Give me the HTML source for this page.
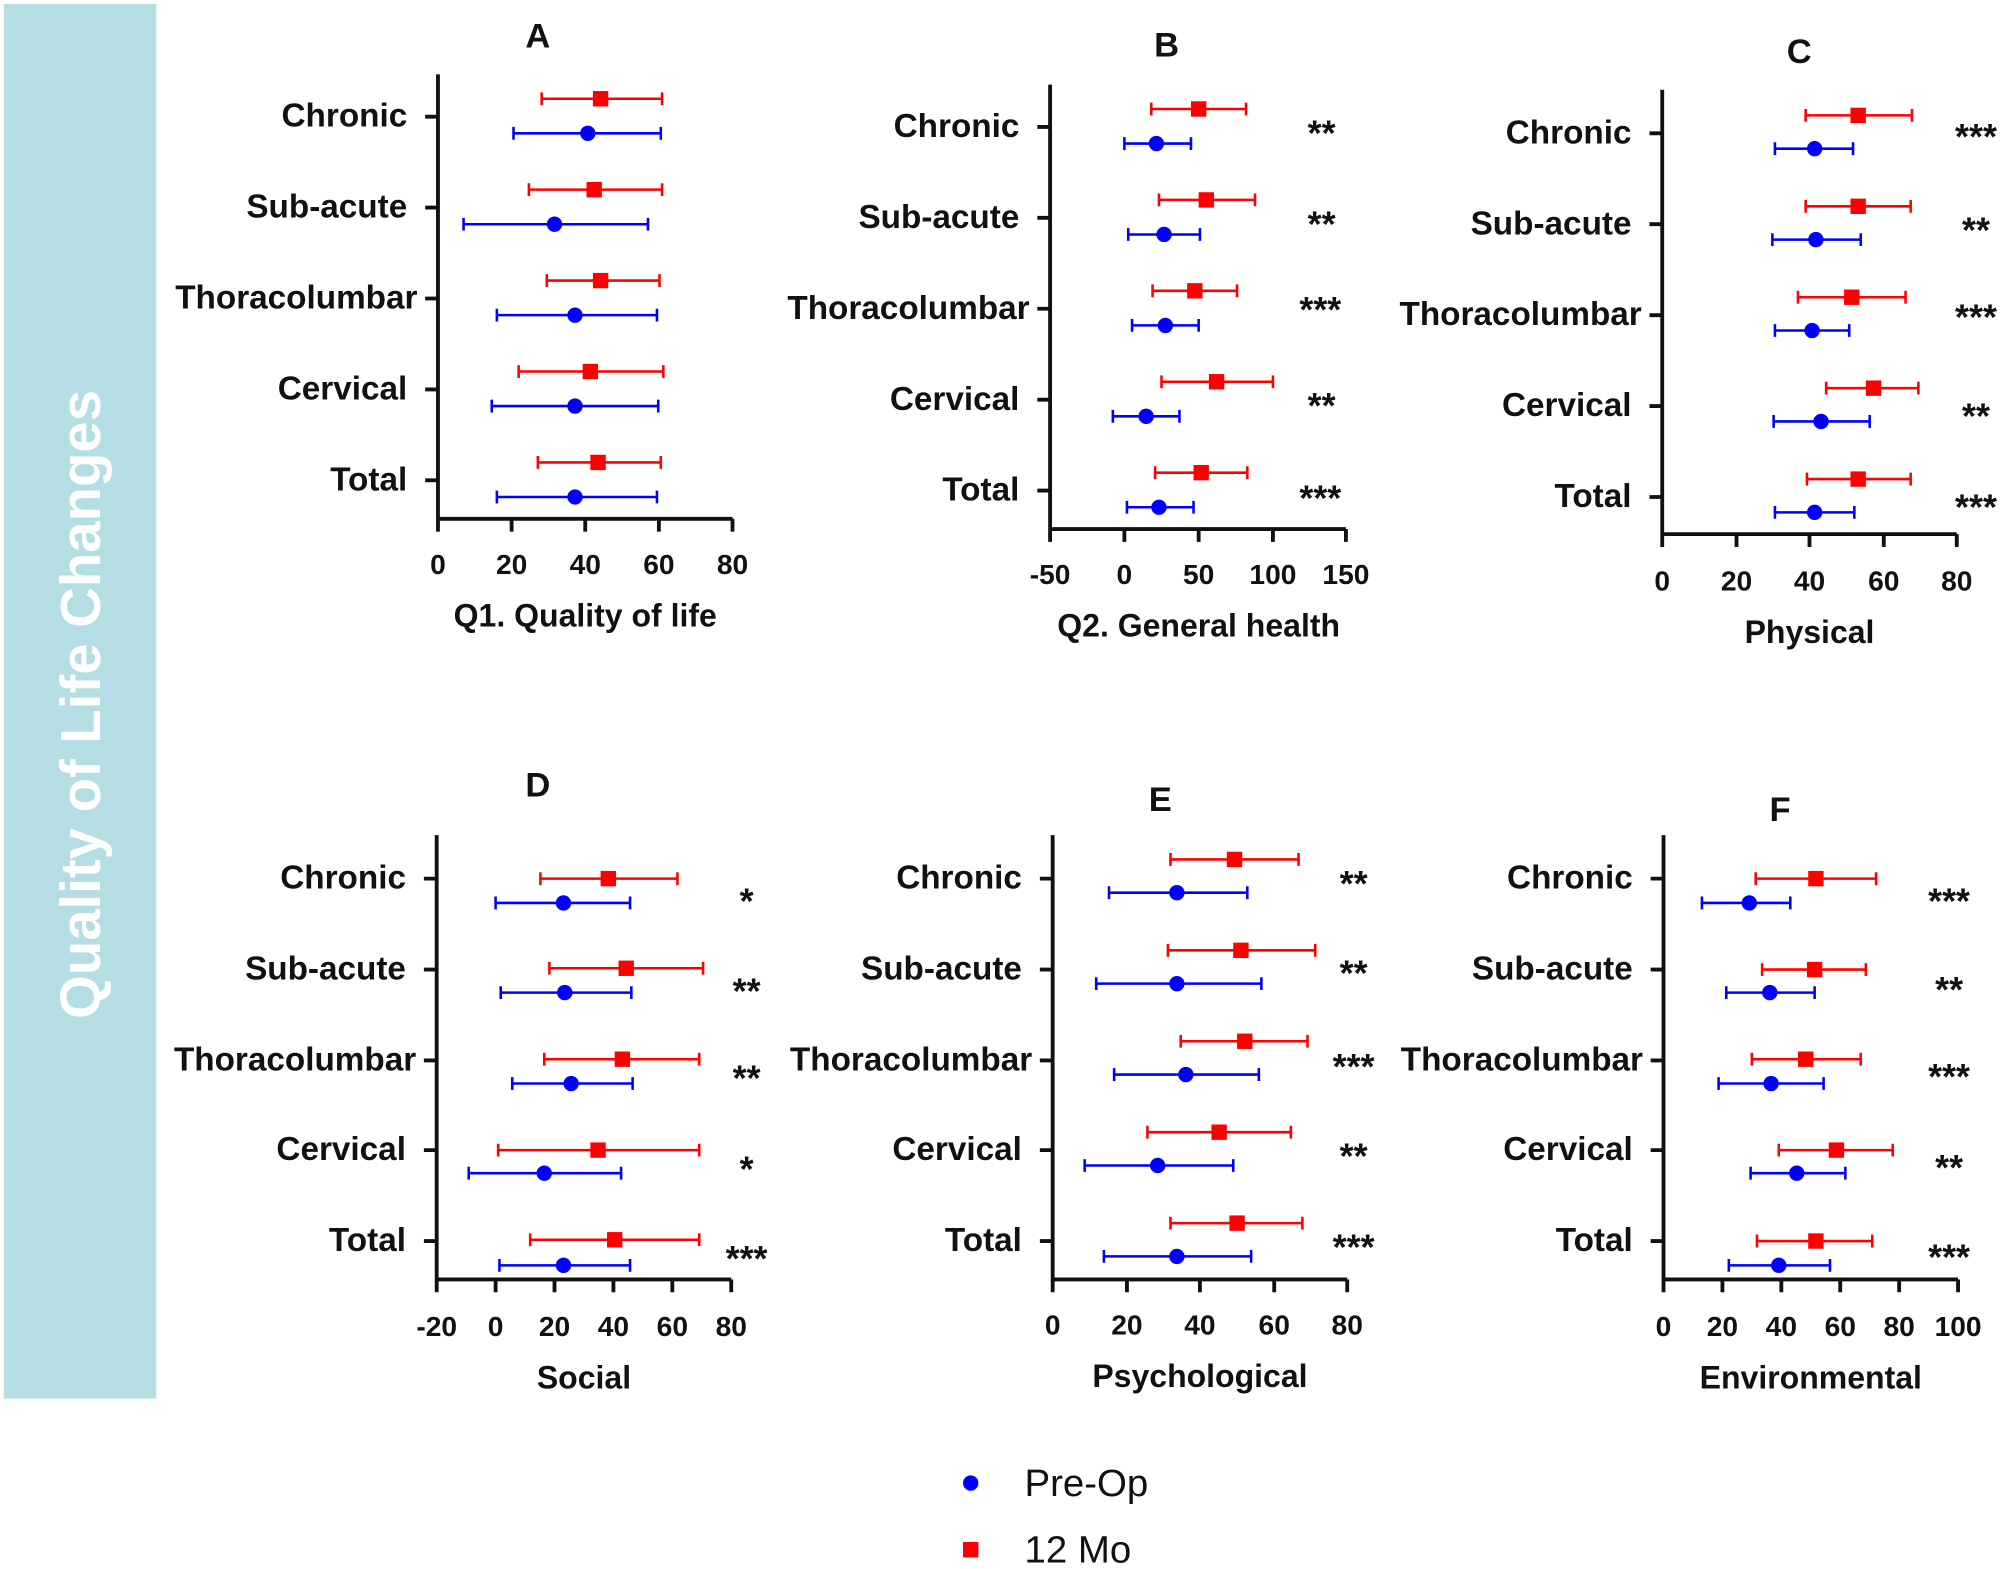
<!DOCTYPE html>
<html><head><meta charset="utf-8"><style>
html,body{margin:0;padding:0;background:#fff}
svg{display:block}
text{font-family:"Liberation Sans",Arial,sans-serif;font-weight:bold;fill:#111}
.cat{font-size:26px;text-anchor:end;dominant-baseline:middle}
.tk{font-size:22px;text-anchor:middle}
.ti{font-size:25px;text-anchor:middle}
.lt{font-size:27px;text-anchor:middle}
.st{font-size:28px;text-anchor:middle;dominant-baseline:middle}
.ax{stroke:#111;stroke-width:3;fill:none}
.r{stroke:#f00;stroke-width:2;fill:none}
.b{stroke:#00f;stroke-width:2;fill:none}
</style></head><body>
<svg width="2008" height="1569" viewBox="0 0 1568 1225" xmlns="http://www.w3.org/2000/svg">
<rect x="3" y="3" width="119" height="1089" fill="#b4dde4"/>
<text transform="translate(78,550) rotate(-90)" text-anchor="middle" style="font-size:44px;fill:#fff;font-weight:bold">Quality of Life Changes</text>

<!-- Panel A -->
<text class="lt" x="420" y="37">A</text>
<path class="ax" d="M342 58V405H572M332 91H342M332 162H342M332 233H342M332 304H342M332 375H342M342 405v10M399.5 405v10M457 405v10M514.5 405v10M572 405v10"/>
<text class="cat" x="318" y="92">Chronic</text><text class="cat" x="318" y="163">Sub-acute</text><text class="cat" x="326" y="234">Thoracolumbar</text><text class="cat" x="318" y="305">Cervical</text><text class="cat" x="318" y="376">Total</text>
<text class="tk" x="342" y="448">0</text><text class="tk" x="399.5" y="448">20</text><text class="tk" x="457" y="448">40</text><text class="tk" x="514.5" y="448">60</text><text class="tk" x="572" y="448">80</text>
<text class="ti" x="457" y="489">Q1. Quality of life</text>
<path class="r" d="M423 77H517M423 72v10M517 72v10M413 148H517M413 143v10M517 143v10M427 219H515M427 214v10M515 214v10M405 290H518M405 285v10M518 285v10M420 361H516M420 356v10M516 356v10"/>
<path class="b" d="M401 104H516M401 99v10M516 99v10M362 175H506M362 170v10M506 170v10M388 246H513M388 241v10M513 241v10M384 317H514M384 312v10M514 312v10M388 388H513M388 383v10M513 383v10"/>
<g fill="#f00"><rect x="463" y="71" width="12" height="12"/><rect x="458" y="142" width="12" height="12"/><rect x="463" y="213" width="12" height="12"/><rect x="455" y="284" width="12" height="12"/><rect x="461" y="355" width="12" height="12"/></g>
<g fill="#00f"><circle cx="459" cy="104" r="6"/><circle cx="433" cy="175" r="6"/><circle cx="449" cy="246" r="6"/><circle cx="449" cy="317" r="6"/><circle cx="449" cy="388" r="6"/></g>

<!-- Panel B -->
<text class="lt" x="911" y="44">B</text>
<path class="ax" d="M820 66V413H1051M810 99H820M810 170H820M810 241H820M810 312H820M810 383H820M820 413v10M878 413v10M936 413v10M994 413v10M1051 413v10"/>
<text class="cat" x="796" y="100">Chronic</text><text class="cat" x="796" y="171">Sub-acute</text><text class="cat" x="804" y="242">Thoracolumbar</text><text class="cat" x="796" y="313">Cervical</text><text class="cat" x="796" y="384">Total</text>
<text class="tk" x="820" y="456">-50</text><text class="tk" x="878" y="456">0</text><text class="tk" x="936" y="456">50</text><text class="tk" x="994" y="456">100</text><text class="tk" x="1051" y="456">150</text>
<text class="ti" x="936" y="497">Q2. General health</text>
<path class="r" d="M899 85H973M899 80v10M973 80v10M905 156H980M905 151v10M980 151v10M900 227H966M900 222v10M966 222v10M907 298H994M907 293v10M994 293v10M902 369H974M902 364v10M974 364v10"/>
<path class="b" d="M878 112H930M878 107v10M930 107v10M881 183H937M881 178v10M937 178v10M884 254H936M884 249v10M936 249v10M869 325H921M869 320v10M921 320v10M880 396H932M880 391v10M932 391v10"/>
<g fill="#f00"><rect x="930" y="79" width="12" height="12"/><rect x="936" y="150" width="12" height="12"/><rect x="927" y="221" width="12" height="12"/><rect x="944" y="292" width="12" height="12"/><rect x="932" y="363" width="12" height="12"/></g>
<g fill="#00f"><circle cx="903" cy="112" r="6"/><circle cx="909" cy="183" r="6"/><circle cx="910" cy="254" r="6"/><circle cx="895" cy="325" r="6"/><circle cx="905" cy="396" r="6"/></g>
<text class="st" x="1032" y="106">**</text><text class="st" x="1032" y="177">**</text><text class="st" x="1031" y="244">***</text><text class="st" x="1032" y="319">**</text><text class="st" x="1031" y="391">***</text>

<!-- Panel C -->
<text class="lt" x="1405" y="49">C</text>
<path class="ax" d="M1298 70V417H1528M1288 104H1298M1288 175H1298M1288 246H1298M1288 317H1298M1288 388H1298M1298 417v10M1356 417v10M1413 417v10M1471 417v10M1528 417v10"/>
<text class="cat" x="1274" y="105">Chronic</text><text class="cat" x="1274" y="176">Sub-acute</text><text class="cat" x="1282" y="247">Thoracolumbar</text><text class="cat" x="1274" y="318">Cervical</text><text class="cat" x="1274" y="389">Total</text>
<text class="tk" x="1298" y="461">0</text><text class="tk" x="1356" y="461">20</text><text class="tk" x="1413" y="461">40</text><text class="tk" x="1471" y="461">60</text><text class="tk" x="1528" y="461">80</text>
<text class="ti" x="1413" y="502">Physical</text>
<path class="r" d="M1410 90H1493M1410 85v10M1493 85v10M1410 161H1492M1410 156v10M1492 156v10M1404 232H1488M1404 227v10M1488 227v10M1426 303H1498M1426 298v10M1498 298v10M1411 374H1492M1411 369v10M1492 369v10"/>
<path class="b" d="M1386 116H1447M1386 111v10M1447 111v10M1384 187H1453M1384 182v10M1453 182v10M1386 258H1444M1386 253v10M1444 253v10M1385 329H1460M1385 324v10M1460 324v10M1386 400H1448M1386 395v10M1448 395v10"/>
<g fill="#f00"><rect x="1445" y="84" width="12" height="12"/><rect x="1445" y="155" width="12" height="12"/><rect x="1440" y="226" width="12" height="12"/><rect x="1457" y="297" width="12" height="12"/><rect x="1445" y="368" width="12" height="12"/></g>
<g fill="#00f"><circle cx="1417" cy="116" r="6"/><circle cx="1418" cy="187" r="6"/><circle cx="1415" cy="258" r="6"/><circle cx="1422" cy="329" r="6"/><circle cx="1417" cy="400" r="6"/></g>
<text class="st" x="1543" y="109">***</text><text class="st" x="1543" y="182">**</text><text class="st" x="1543" y="250">***</text><text class="st" x="1543" y="327">**</text><text class="st" x="1543" y="398">***</text>

<!-- Panel D -->
<text class="lt" x="420" y="622">D</text>
<path class="ax" d="M341 652V999H571M331 686H341M331 757H341M331 828H341M331 898H341M331 969H341M341 999v10M387 999v10M433 999v10M479 999v10M525 999v10M571 999v10"/>
<text class="cat" x="317" y="687">Chronic</text><text class="cat" x="317" y="758">Sub-acute</text><text class="cat" x="325" y="829">Thoracolumbar</text><text class="cat" x="317" y="899">Cervical</text><text class="cat" x="317" y="970">Total</text>
<text class="tk" x="341" y="1043">-20</text><text class="tk" x="387" y="1043">0</text><text class="tk" x="433" y="1043">20</text><text class="tk" x="479" y="1043">40</text><text class="tk" x="525" y="1043">60</text><text class="tk" x="571" y="1043">80</text>
<text class="ti" x="456" y="1084">Social</text>
<path class="r" d="M422 686H529M422 681v10M529 681v10M429 756H549M429 751v10M549 751v10M425 827H546M425 822v10M546 822v10M389 898H546M389 893v10M546 893v10M414 968H546M414 963v10M546 963v10"/>
<path class="b" d="M387 705H492M387 700v10M492 700v10M391 775H493M391 770v10M493 770v10M400 846H494M400 841v10M494 841v10M366 916H485M366 911v10M485 911v10M390 988H492M390 983v10M492 983v10"/>
<g fill="#f00"><rect x="469" y="680" width="12" height="12"/><rect x="483" y="750" width="12" height="12"/><rect x="480" y="821" width="12" height="12"/><rect x="461" y="892" width="12" height="12"/><rect x="474" y="962" width="12" height="12"/></g>
<g fill="#00f"><circle cx="440" cy="705" r="6"/><circle cx="441" cy="775" r="6"/><circle cx="446" cy="846" r="6"/><circle cx="425" cy="916" r="6"/><circle cx="440" cy="988" r="6"/></g>
<text class="st" x="583" y="706">*</text><text class="st" x="583" y="776">**</text><text class="st" x="583" y="844">**</text><text class="st" x="583" y="915">*</text><text class="st" x="583" y="985">***</text>

<!-- Panel E -->
<text class="lt" x="906" y="633">E</text>
<path class="ax" d="M822 652V999H1052M812 686H822M812 757H822M812 828H822M812 898H822M812 969H822M822 999v10M880 999v10M937 999v10M995 999v10M1052 999v10"/>
<text class="cat" x="798" y="687">Chronic</text><text class="cat" x="798" y="758">Sub-acute</text><text class="cat" x="806" y="829">Thoracolumbar</text><text class="cat" x="798" y="899">Cervical</text><text class="cat" x="798" y="970">Total</text>
<text class="tk" x="822" y="1042">0</text><text class="tk" x="880" y="1042">20</text><text class="tk" x="937" y="1042">40</text><text class="tk" x="995" y="1042">60</text><text class="tk" x="1052" y="1042">80</text>
<text class="ti" x="937" y="1083">Psychological</text>
<path class="r" d="M914 671H1014M914 666v10M1014 666v10M912 742H1027M912 737v10M1027 737v10M922 813H1021M922 808v10M1021 808v10M896 884H1008M896 879v10M1008 879v10M914 955H1017M914 950v10M1017 950v10"/>
<path class="b" d="M866 697H974M866 692v10M974 692v10M856 768H985M856 763v10M985 763v10M870 839H983M870 834v10M983 834v10M847 910H963M847 905v10M963 905v10M862 981H977M862 976v10M977 976v10"/>
<g fill="#f00"><rect x="958" y="665" width="12" height="12"/><rect x="963" y="736" width="12" height="12"/><rect x="966" y="807" width="12" height="12"/><rect x="946" y="878" width="12" height="12"/><rect x="960" y="949" width="12" height="12"/></g>
<g fill="#00f"><circle cx="919" cy="697" r="6"/><circle cx="919" cy="768" r="6"/><circle cx="926" cy="839" r="6"/><circle cx="904" cy="910" r="6"/><circle cx="919" cy="981" r="6"/></g>
<text class="st" x="1057" y="692">**</text><text class="st" x="1057" y="762">**</text><text class="st" x="1057" y="835">***</text><text class="st" x="1057" y="905">**</text><text class="st" x="1057" y="976">***</text>

<!-- Panel F -->
<text class="lt" x="1390" y="641">F</text>
<path class="ax" d="M1299 652V999H1529M1289 686H1299M1289 757H1299M1289 828H1299M1289 898H1299M1289 969H1299M1299 999v10M1345 999v10M1391 999v10M1437 999v10M1483 999v10M1529 999v10"/>
<text class="cat" x="1275" y="687">Chronic</text><text class="cat" x="1275" y="758">Sub-acute</text><text class="cat" x="1283" y="829">Thoracolumbar</text><text class="cat" x="1275" y="899">Cervical</text><text class="cat" x="1275" y="970">Total</text>
<text class="tk" x="1299" y="1043">0</text><text class="tk" x="1345" y="1043">20</text><text class="tk" x="1391" y="1043">40</text><text class="tk" x="1437" y="1043">60</text><text class="tk" x="1483" y="1043">80</text><text class="tk" x="1529" y="1043">100</text>
<text class="ti" x="1414" y="1084">Environmental</text>
<path class="r" d="M1371 686H1465M1371 681v10M1465 681v10M1376 757H1457M1376 752v10M1457 752v10M1368 827H1453M1368 822v10M1453 822v10M1389 898H1478M1389 893v10M1478 893v10M1372 969H1462M1372 964v10M1462 964v10"/>
<path class="b" d="M1329 705H1398M1329 700v10M1398 700v10M1348 775H1417M1348 770v10M1417 770v10M1342 846H1424M1342 841v10M1424 841v10M1367 916H1441M1367 911v10M1441 911v10M1350 988H1429M1350 983v10M1429 983v10"/>
<g fill="#f00"><rect x="1412" y="680" width="12" height="12"/><rect x="1411" y="751" width="12" height="12"/><rect x="1404" y="821" width="12" height="12"/><rect x="1428" y="892" width="12" height="12"/><rect x="1412" y="963" width="12" height="12"/></g>
<g fill="#00f"><circle cx="1366" cy="705" r="6"/><circle cx="1382" cy="775" r="6"/><circle cx="1383" cy="846" r="6"/><circle cx="1403" cy="916" r="6"/><circle cx="1389" cy="988" r="6"/></g>
<text class="st" x="1522" y="706">***</text><text class="st" x="1522" y="775">**</text><text class="st" x="1522" y="843">***</text><text class="st" x="1522" y="914">**</text><text class="st" x="1522" y="984">***</text>

<!-- Legend -->
<circle cx="758" cy="1158" r="6" fill="#00f"/>
<rect x="752" y="1204" width="12" height="12" fill="#f00"/>
<text x="800" y="1168" style="font-size:30px;font-weight:normal">Pre-Op</text>
<text x="800" y="1220" style="font-size:30px;font-weight:normal">12 Mo</text>
</svg>
</body></html>
